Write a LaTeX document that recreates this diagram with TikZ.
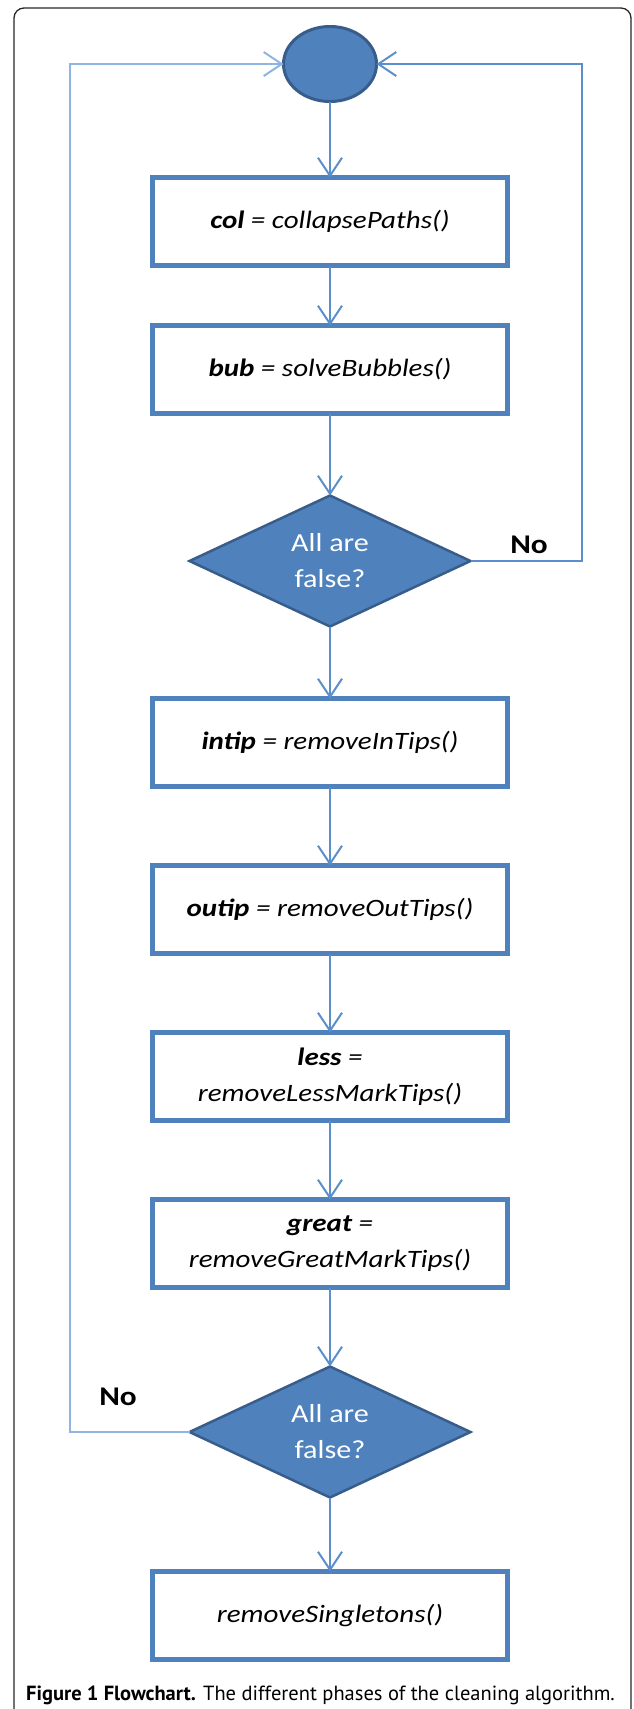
\documentclass[tikz,border=0pt]{standalone}
\usepackage{fontspec}
\setmainfont{Carlito}[FakeStretch=1.16]
\newfontfamily\capfont{PT Sans}
\usetikzlibrary{arrows.meta,positioning,shapes.geometric}
\definecolor{boxblue}{RGB}{79,129,189}
\definecolor{darkblue}{RGB}{56,93,138}
\definecolor{lineblue}{RGB}{91,143,204}
\definecolor{paleblue}{RGB}{141,180,226}

\begin{document}
\begin{tikzpicture}[
    x=1pt, y=-1pt,
    node distance=79pt,
    stepbox/.style={
        draw=boxblue,
        line width=4.5pt,
        fill=white,
        minimum width=355pt,
        minimum height=88pt,
        align=center,
        outer sep=0pt,
        font=\itshape\fontsize{25}{36}\selectfont
    },
    decision/.style={
        diamond,
        draw=darkblue,
        line width=2.5pt,
        fill=boxblue,
        text=white,
        aspect=2.1,
        inner sep=0pt,
        minimum width=281pt,
        minimum height=131pt,
        align=center,
        outer sep=0pt,
        font=\fontsize{26}{36}\selectfont
    },
    startnode/.style={
        ellipse,
        draw=darkblue,
        line width=3pt,
        fill=boxblue,
        minimum width=93pt,
        minimum height=75pt,
        outer sep=0pt
    },
    arrow/.style={-{Straight Barb[length=18pt,width=24pt]}, line width=2pt, lineblue},
    loopback/.style={arrow, paleblue},
    mylabel/.style={font=\bfseries\fontsize{27}{30}\selectfont},
    ]

    \useasboundingbox (0,0) rectangle (633,1709);
    \draw[line width=1.3pt, black!85, rounded corners=10pt] (14,1730) |- (631,8) -- (631,1730);

    \node[startnode] (start) at (330,64) {};
    \node[stepbox, below=76pt of start] (col) {\textbf{col} = collapsePaths()};
    \node[stepbox, below=60pt of col] (bub) {\textbf{bub} = solveBubbles()};
    \node[decision, below=82pt of bub] (check1) {All are\\false?};
    \node[stepbox, below=72pt of check1] (intip) {\textbf{intip} = removeInTips()};
    \node[stepbox, below=of intip] (outip) {\textbf{outip} = removeOutTips()};
    \node[stepbox, below=of outip] (less) {\textbf{less} =\\removeLessMarkTips()};
    \node[stepbox, below=of less] (great) {\textbf{great} =\\removeGreatMarkTips()};
    \node[decision, below=of great] (check2) {All are\\false?};
    \node[stepbox, below=74pt of check2] (single) {removeSingletons()};

    \coordinate (rcorner) at (582,64);
    \coordinate (lcorner) at (70,64);
    \node[mylabel] (no1) at (529,545) {No};
    \node[mylabel] (no2) at (118,1397) {No};

    \path
        (start) edge[arrow] (col)
        (col) edge[arrow] (bub)
        (bub) edge[arrow] (check1)
        (check1) edge[arrow] (intip)
        (intip) edge[arrow] (outip)
        (outip) edge[arrow] (less)
        (less) edge[arrow] (great)
        (great) edge[arrow] (check2)
        (check2) edge[arrow] (single);

    \draw[arrow] (check1.east) -| (rcorner) -- (start.east);
    \draw[loopback] (check2.west) -| (lcorner) -- (start.west);

    \node[anchor=base west, inner sep=0pt, font=\capfont\fontsize{20.5}{24}\selectfont] (caption) at (26,1700)
        {\textbf{Figure 1 Flowchart.} The different phases of the cleaning algorithm.};
\end{tikzpicture}
\end{document}
